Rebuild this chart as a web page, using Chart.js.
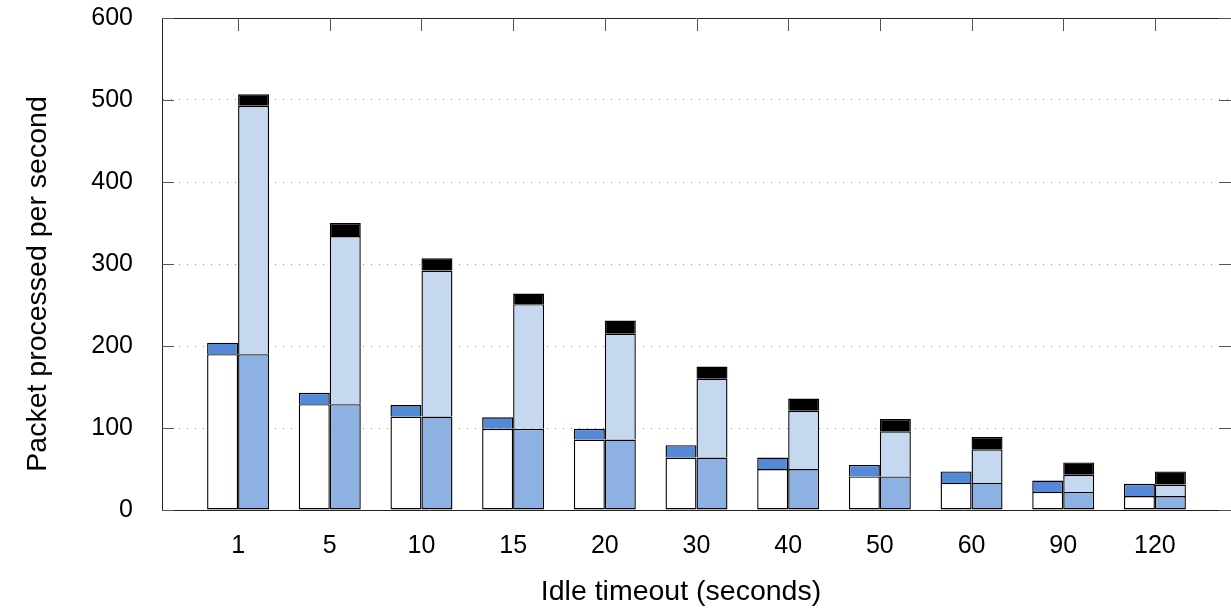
<!DOCTYPE html>
<html lang="en">
<head>
  <meta charset="UTF-8">
  <title>Packets processed per idle timeout</title>
  <style>
    html, body {
      margin: 0;
      padding: 0;
      background: #fff;
      overflow: hidden;
    }
    #wrap {
      width: 1231px;
      height: 608px;
      position: relative;
    }
  </style>
  <script src="https://cdn.jsdelivr.net/npm/chart.js"></script>
</head>
<body>
<div id="wrap"><canvas id="packetsChart"></canvas></div>

<script>
  // idle timeout (seconds), one pair of bars per value
  const timeouts = ['1', '5', '10', '15', '20', '30', '40', '50', '60', '90', '120'];

  // left bar of each pair: white base + blue cap
  const leftBase = [190, 129, 114, 99, 86, 64, 50, 41, 33, 22, 17];
  const leftTop  = [14, 14, 14, 14, 13, 15, 14, 14, 14, 14, 15];

  // right bar of each pair: mid blue base + light blue + black cap
  const rightBase = [190, 129, 114, 99, 86, 64, 50, 41, 33, 22, 17];
  const rightMid  = [303, 205, 178, 152, 129, 96, 71, 55, 41, 21, 14];
  const rightTop  = [14, 16, 15, 13, 16, 15, 15, 15, 15, 15, 16];

  const yTicks = [0, 100, 200, 300, 400, 500, 600];

  const FONT = '"Liberation Sans", Arial, Helvetica, sans-serif';
  Chart.defaults.font.family = FONT;
  Chart.defaults.color = '#000';

  const toPoints = arr => arr.map((v, i) => ({ x: i, y: v }));

  // base segments get a full outline, stacked ones skip their bottom edge
  function barSet(label, values, stack, fill, isBase) {
    return {
      label: label,
      data: toPoints(values),
      stack: stack,
      backgroundColor: fill,
      borderColor: '#000',
      borderWidth: 1.4,
      borderSkipped: isBase ? false : 'start'
    };
  }

  // frame, inward tick marks and axis titles, gnuplot style
  const framePlugin = {
    id: 'frame',
    afterDraw(chart) {
      const { ctx, chartArea: a, scales: { x, y } } = chart;
      ctx.save();
      ctx.lineWidth = 1;

      ctx.strokeStyle = '#222';
      ctx.beginPath();
      ctx.moveTo(a.left, a.top + 0.5);
      ctx.lineTo(a.right, a.top + 0.5);
      ctx.stroke();

      ctx.strokeStyle = '#555';
      ctx.beginPath();
      yTicks.forEach(v => {
        const py = Math.round(y.getPixelForValue(v)) + 0.5;
        ctx.moveTo(a.left, py);
        ctx.lineTo(a.left + 12, py);
        ctx.moveTo(a.right - 12, py);
        ctx.lineTo(a.right, py);
      });
      timeouts.forEach((_, i) => {
        const px = Math.round(x.getPixelForValue(i)) + 0.5;
        ctx.moveTo(px, a.top);
        ctx.lineTo(px, a.top + 13);
      });
      ctx.stroke();

      ctx.fillStyle = '#000';
      ctx.font = '28.5px ' + FONT;
      ctx.textAlign = 'center';
      ctx.textBaseline = 'middle';
      ctx.fillText('Idle timeout (seconds)', 681, 592);

      ctx.translate(38, 284);
      ctx.rotate(-Math.PI / 2);
      ctx.fillText('Packet processed per second', 0, 0);
      ctx.restore();
    }
  };

  const config = {
    type: 'bar',
    data: {
      datasets: [
        barSet('left base', leftBase, 'a', '#ffffff', true),
        barSet('left top', leftTop, 'a', '#5389d6', false),
        barSet('right base', rightBase, 'b', '#8db1e3', true),
        barSet('right middle', rightMid, 'b', '#c6d8f0', false),
        barSet('right top', rightTop, 'b', '#000000', false)
      ]
    },
    options: {
      responsive: true,
      maintainAspectRatio: false,
      animation: false,
      categoryPercentage: 0.676,
      barPercentage: 1.0,
      layout: { padding: { top: 18, right: 0, bottom: 0, left: 0 } },
      plugins: {
        legend: { display: false },
        tooltip: { enabled: false }
      },
      scales: {
        x: {
          type: 'linear',
          stacked: true,
          offset: false,
          min: -0.83,
          max: 10.83,
          afterBuildTicks: scale => {
            scale.ticks = timeouts.map((_, i) => ({ value: i }));
          },
          afterFit: scale => {
            scale.height = 98;
            scale.paddingLeft = 0;
            scale.paddingRight = 0;
          },
          grid: { display: false, offset: false },
          border: { display: true, color: '#222', width: 1 },
          ticks: {
            autoSkip: false,
            maxRotation: 0,
            padding: 13,
            font: { size: 25 },
            callback: v => timeouts[v]
          }
        },
        y: {
          stacked: true,
          min: 0,
          max: 600,
          afterBuildTicks: scale => {
            scale.ticks = yTicks.map(v => ({ value: v }));
          },
          afterFit: scale => {
            scale.width = 162;
            scale.paddingTop = 0;
            scale.paddingBottom = 0;
          },
          grid: {
            color: '#8a8a8a',
            lineWidth: 1,
            drawTicks: false
          },
          border: { display: true, color: '#222', width: 1, dash: [1, 7] },
          ticks: {
            padding: 29,
            font: { size: 25 }
          }
        }
      }
    },
    plugins: [framePlugin]
  };

  new Chart(document.getElementById('packetsChart').getContext('2d'), config);
</script>
</body>
</html>
